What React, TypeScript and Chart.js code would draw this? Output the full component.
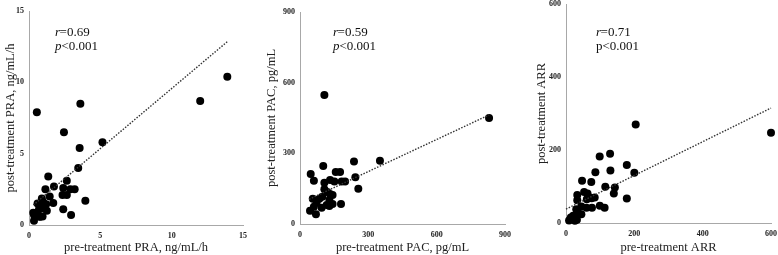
import React, { useEffect, useRef } from "react";
import { Chart, registerables } from "chart.js";

Chart.register(...registerables);

const SERIF = "'Liberation Serif', 'Times New Roman', serif";

// Panel 1: PRA
const praPre = [13.9, 12.0, 0.55, 3.6, 2.45, 5.15, 3.55, 3.45, 1.35, 2.65, 1.75, 1.15, 2.4, 2.9, 3.2, 2.35, 2.65, 1.45, 0.9, 1.7, 1.0, 0.6, 1.2, 3.95, 2.4, 0.85, 1.25, 0.3, 0.55, 0.75, 0.95, 2.95, 0.35, 0.7, 0.35, 0.77];
const praPost = [10.4, 8.7, 7.9, 8.5, 6.5, 5.8, 5.4, 4.0, 3.4, 3.1, 2.7, 2.5, 2.6, 2.5, 2.5, 2.1, 2.1, 2.0, 1.85, 1.55, 1.6, 1.5, 1.45, 1.7, 1.1, 1.15, 1.0, 0.85, 0.8, 0.6, 0.6, 0.7, 0.3, 1.1, 0.7, 0.58];
const praFitX = [0.3, 13.9];
const praFitY = [1.4, 12.85];
const praTicks = { max: 15, step: 5 };

// Panel 2: PAC
const pacPre = [830, 107, 237, 351, 102, 47, 157, 176, 61, 107, 132, 151, 183, 198, 243, 256, 107, 120, 132, 143, 56, 85, 98, 73, 129, 143, 117, 129, 95, 61, 180, 44, 70];
const pacPost = [450, 548, 265, 269, 246, 212, 221, 221, 184, 175, 187, 180, 180, 180, 198, 150, 147, 136, 127, 123, 107, 107, 116, 90, 102, 85, 81, 76, 69, 73, 85, 56, 41];
const pacFitX = [40, 830];
const pacFitY = [105, 463];
const pacTicks = { max: 900, step: 300 };

// Panel 3: ARR
const arrPre = [600, 204, 98.6, 129, 178, 86, 130, 200, 47, 74, 115, 143, 33, 53, 63, 140, 33, 69, 84, 61, 75, 178, 45, 60, 76, 99, 113, 30, 35, 45, 21, 9, 26, 14, 32];
const arrPost = [247, 270, 182, 190, 159, 139, 144, 138, 116, 112, 99, 97, 77, 85, 81, 81, 62, 70, 70, 65, 68, 67, 45, 42, 42, 47, 42, 38, 27, 24, 20, 7, 6, 15, 9];
const arrFitX = [0, 600];
const arrFitY = [38, 315];
const arrTicks = { max: 600, step: 200 };

const xTitles = ["pre-treatment PRA, ng/mL/h", "pre-treatment PAC, pg/mL", "pre-treatment ARR"];
const yTitles = ["post-treatment PRA, ng/mL/h", "post-treatment PAC, pg/mL", "post-treatment ARR"];
const rValues = ["0.69", "0.59", "0.71"];
const pLabels = ["p", "p", "p"];
const pItalic = [true, true, false];
const pValues = ["<0.001", "<0.001", "<0.001"];

type PanelCfg = {
  idx: number;
  x: number[];
  y: number[];
  fitX: number[];
  fitY: number[];
  ticks: { max: number; step: number };
  left: number;
  width: number;
  padLeft: number;
  yWidth: number;
  padTop: number;
  padRight: number;
  xHeight: number;
  textX: number;
};

const panels: PanelCfg[] = [
  { idx: 0, x: praPre, y: praPost, fitX: praFitX, fitY: praFitY, ticks: praTicks, left: 0, width: 259, padLeft: 3, yWidth: 26, padTop: 11, padRight: 16, xHeight: 30, textX: 55 },
  { idx: 1, x: pacPre, y: pacPost, fitX: pacFitX, fitY: pacFitY, ticks: pacTicks, left: 259, width: 259, padLeft: 5, yWidth: 36, padTop: 12, padRight: 13, xHeight: 31, textX: 74 },
  { idx: 2, x: arrPre, y: arrPost, fitX: arrFitX, fitY: arrFitY, ticks: arrTicks, left: 518, width: 260, padLeft: 16, yWidth: 32, padTop: 1, padRight: 7, xHeight: 32, textX: 78 },
];

const H = 255;

function Panel({ cfg }: { cfg: PanelCfg }) {
  const ref = useRef<HTMLCanvasElement>(null);
  useEffect(() => {
    const annot = {
      id: "annot" + cfg.idx,
      afterDraw(chart: any) {
        const ctx = chart.ctx;
        ctx.save();
        ctx.fillStyle = "#111";
        ctx.textBaseline = "middle";
        ctx.textAlign = "left";
        let x = cfg.textX;
        ctx.font = `italic 13px ${SERIF}`;
        ctx.fillText("r", x, 33);
        x += ctx.measureText("r").width - 0.5;
        ctx.font = `13px ${SERIF}`;
        ctx.fillText("=" + rValues[cfg.idx], x, 33);
        x = cfg.textX;
        ctx.font = `${pItalic[cfg.idx] ? "italic " : ""}13px ${SERIF}`;
        ctx.fillText(pLabels[cfg.idx], x, 47);
        x += ctx.measureText(pLabels[cfg.idx]).width;
        ctx.font = `13px ${SERIF}`;
        ctx.fillText(pValues[cfg.idx], x, 47);
        ctx.restore();
      },
    };
    const tickFont = { family: SERIF, size: 8, weight: "bold" as const };
    const titleFont = { family: SERIF, size: 12.5 };
    const chart = new Chart(ref.current!, {
      type: "scatter",
      data: {
        datasets: [
          {
            data: cfg.x.map((v, i) => ({ x: v, y: cfg.y[i] })),
            backgroundColor: "#000",
            borderColor: "#000",
            pointRadius: 4,
            pointHoverRadius: 4,
            borderWidth: 0,
            clip: false as any,
            order: 2,
          },
          {
            data: cfg.fitX.map((v, i) => ({ x: v, y: cfg.fitY[i] })),
            showLine: true,
            borderColor: "#333",
            borderWidth: 1.4,
            borderDash: [1.5, 1.5],
            pointRadius: 0,
            pointHoverRadius: 0,
            clip: false as any,
            order: 1,
          },
        ],
      },
      options: {
        responsive: false,
        animation: false,
        events: [],
        layout: { padding: { left: cfg.padLeft, top: cfg.padTop, right: cfg.padRight, bottom: 0 } },
        plugins: { legend: { display: false }, tooltip: { enabled: false } },
        scales: {
          x: {
            type: "linear",
            min: 0,
            max: cfg.ticks.max,
            grid: { display: false, drawTicks: false },
            border: { display: true, color: "#a8a8a8", width: 1 },
            ticks: { stepSize: cfg.ticks.step, font: tickFont, color: "#222", padding: 6, maxRotation: 0 },
            title: { display: true, text: xTitles[cfg.idx], font: titleFont, color: "#222", padding: 0 },
            afterFit(scale: any) {
              scale.height = cfg.xHeight;
              scale.paddingLeft = 0;
              scale.paddingRight = 0;
            },
          },
          y: {
            type: "linear",
            min: 0,
            max: cfg.ticks.max,
            grid: { display: false, drawTicks: false },
            border: { display: true, color: "#a8a8a8", width: 1 },
            ticks: { stepSize: cfg.ticks.step, font: tickFont, color: "#222", padding: 5 },
            title: { display: true, text: yTitles[cfg.idx], font: titleFont, color: "#222", padding: 0 },
            afterFit(scale: any) {
              scale.width = cfg.yWidth;
              scale.paddingTop = 0;
              scale.paddingBottom = 0;
            },
          },
        },
      },
      plugins: [annot],
    });
    return () => chart.destroy();
  }, []);
  return (
    <canvas
      ref={ref}
      width={cfg.width}
      height={H}
      style={{ position: "absolute", left: cfg.left, top: 0, width: cfg.width, height: H }}
    />
  );
}

export default function App() {
  return (
    <div style={{ position: "absolute", left: 0, top: 0, width: 778, height: H, background: "#fff", overflow: "hidden" }}>
      {panels.map((p) => (
        <Panel key={p.idx} cfg={p} />
      ))}
    </div>
  );
}
